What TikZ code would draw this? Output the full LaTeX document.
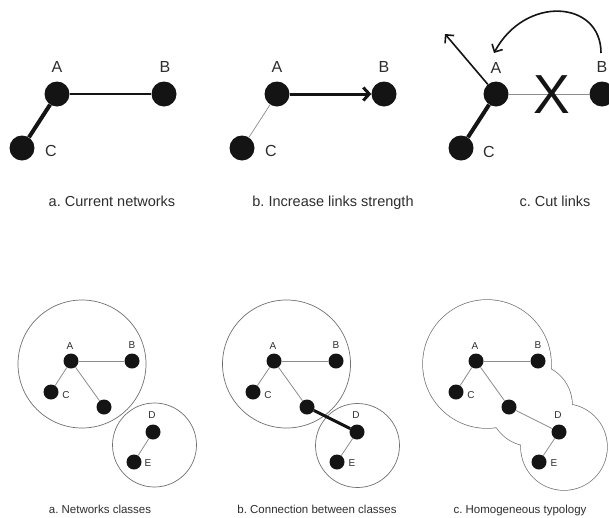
\documentclass[tikz,border=0pt]{standalone}
\usepackage{fontspec}
\setmainfont{Liberation Sans}
\frenchspacing
\usetikzlibrary{arrows.meta}
\definecolor{ink}{HTML}{141414}
\definecolor{txt}{HTML}{2E2E2E}
\definecolor{faint}{HTML}{8C8C8C}
\definecolor{rim}{HTML}{707070}
\begin{document}
\begin{tikzpicture}[x=1pt,y=-1pt,
  bigdot/.style={circle,fill=ink,inner sep=0pt,minimum size=25pt},
  smalldot/.style={circle,fill=ink,inner sep=0pt,minimum size=15pt},
  toplabel/.style={text=txt,inner sep=0pt,font=\fontsize{16}{16}\selectfont},
  smalllabel/.style={text=txt,inner sep=0pt,font=\fontsize{10}{10}\selectfont},
  bigcaption/.style={text=txt,inner sep=0pt,anchor=base,font=\fontsize{14.5}{14.5}\selectfont},
  smallcaption/.style={text=txt,inner sep=0pt,anchor=base,font=\fontsize{11.5}{11.5}\selectfont},
  heavylink/.style={draw=ink,line width=4pt},
  plainlink/.style={draw=ink,line width=1.7pt},
  weaklink/.style={draw=faint,line width=0.7pt},
  graylink/.style={draw=faint,line width=0.8pt},
  classrim/.style={draw=rim,line width=0.7pt},
  barb/.style={-{Straight Barb[length=6pt,width=12pt]}},
]
\useasboundingbox (0,0) rectangle (609,517);
\fill[white] (0,0) rectangle (609,517);

% ---------- top row: a. current networks ----------
\node[bigdot] (aA) at (57,94) {};
\node[bigdot] (aB) at (164,94) {};
\node[bigdot] (aC) at (22,148) {};
\node[toplabel] (aAl) at (57,67) {A};
\node[toplabel] (aBl) at (165,67) {B};
\node[toplabel] (aCl) at (51,151) {C};
\draw[plainlink] (aA) -- (aB);
\draw[heavylink] (aA) -- (aC);
\node[bigcaption] (capa) at (112,206) {a. Current networks};

% ---------- top row: b. increase links strength ----------
\node[bigdot] (bA) at (277,94) {};
\node[bigdot] (bB) at (384,94) {};
\node[bigdot] (bC) at (242,148) {};
\node[toplabel] (bAl) at (277,67) {A};
\node[toplabel] (bBl) at (384,67) {B};
\node[toplabel] (bCl) at (271,151) {C};
\draw[weaklink] (bA) -- (bC);
\draw[draw=ink,line width=3pt,-{Straight Barb[length=6pt,width=13pt]}] (bA) -- (bB);
\node[bigcaption] (capb) at (333,206) {b. Increase links strength};

% ---------- top row: c. cut links ----------
\node[bigdot] (cA) at (496,94) {};
\node[bigdot] (cB) at (602,94) {};
\node[bigdot] (cC) at (461,148) {};
\node[toplabel] (cAl) at (496,68) {A};
\node[toplabel] (cBl) at (602,67) {B};
\node[toplabel] (cCl) at (489,152) {C};
\draw[draw=faint,line width=1pt] (cA) -- (cB);
\draw[heavylink] (cA) -- (cC);
\node[text=ink,inner sep=0pt,font=\fontsize{55}{55}\selectfont] (cX) at (552,95) {X};
\coordinate (cOut) at (445,34);
\coordinate (cLoopStart) at (601,53);
\coordinate (cLoopEnd) at (494,53);
\draw[draw=ink,line width=1.6pt,barb] (cA) -- (cOut);
\draw[draw=ink,line width=1.6pt,barb] (cLoopStart) .. controls (601,0) and (525,-5) .. (cLoopEnd);
\node[bigcaption] (capc) at (555,206) {c. Cut links};

% ---------- bottom row: a. networks classes ----------
\draw[classrim] (82,364) circle[radius=64];
\draw[classrim] (154.5,445) circle[radius=42];
\node[smalldot] (pA) at (71,361) {};
\node[smalldot] (pB) at (132,361) {};
\node[smalldot] (pC) at (51,392) {};
\node[smalldot] (pU) at (104,407) {};
\node[smalldot] (pD) at (153,432) {};
\node[smalldot] (pE) at (134,462) {};
\draw[graylink] (pA) -- (pB);
\draw[graylink] (pA) -- (pC);
\draw[graylink] (pA) -- (pU);
\draw[graylink] (pD) -- (pE);
\node[smalllabel] (pAl) at (70,346) {A};
\node[smalllabel] (pBl) at (132,345) {B};
\node[smalllabel] (pCl) at (66,395) {C};
\node[smalllabel] (pDl) at (152,415) {D};
\node[smalllabel] (pEl) at (148,463) {E};
\node[smallcaption] (capd) at (100,513) {a. Networks classes};

% ---------- bottom row: b. connection between classes ----------
\draw[classrim] (286.5,364) circle[radius=64];
\draw[classrim] (357.5,445.5) circle[radius=42];
\node[smalldot] (qA) at (274,361) {};
\node[smalldot] (qB) at (336,361) {};
\node[smalldot] (qC) at (253,392) {};
\node[smalldot] (qU) at (307,407) {};
\node[smalldot] (qD) at (357,432) {};
\node[smalldot] (qE) at (337,462) {};
\draw[graylink] (qA) -- (qB);
\draw[graylink] (qA) -- (qC);
\draw[graylink] (qA) -- (qU);
\draw[graylink] (qD) -- (qE);
\draw[draw=ink,line width=3pt] (qU) -- (qD);
\node[smalllabel] (qAl) at (273,346) {A};
\node[smalllabel] (qBl) at (336,345) {B};
\node[smalllabel] (qCl) at (268,395) {C};
\node[smalllabel] (qDl) at (356,415) {D};
\node[smalllabel] (qEl) at (352,463) {E};
\node[smallcaption] (cape) at (317,513) {b. Connection between classes};

% ---------- bottom row: c. homogeneous typology ----------
% outline of the union of three discs: wide strokes, then white fills on top
\begin{scope}[draw=rim,line width=1.4pt]
  \draw (487,364) circle[radius=64];
  \draw (531,405) circle[radius=41];
  \draw (564,447) circle[radius=43];
\end{scope}
\fill[white] (487,364) circle[radius=64];
\fill[white] (531,405) circle[radius=41];
\fill[white] (564,447) circle[radius=43];
\node[smalldot] (rA) at (476,361) {};
\node[smalldot] (rB) at (538,361) {};
\node[smalldot] (rC) at (456,392) {};
\node[smalldot] (rU) at (509,407) {};
\node[smalldot] (rD) at (559,432) {};
\node[smalldot] (rE) at (539,462) {};
\draw[graylink] (rA) -- (rB);
\draw[graylink] (rA) -- (rC);
\draw[graylink] (rA) -- (rU);
\draw[graylink] (rU) -- (rD);
\draw[graylink] (rD) -- (rE);
\node[smalllabel] (rAl) at (475,346) {A};
\node[smalllabel] (rBl) at (538,345) {B};
\node[smalllabel] (rCl) at (471,395) {C};
\node[smalllabel] (rDl) at (558,415) {D};
\node[smalllabel] (rEl) at (554,463) {E};
\node[smallcaption] (capf) at (520,513) {c. Homogeneous typology};
\end{tikzpicture}
\end{document}
